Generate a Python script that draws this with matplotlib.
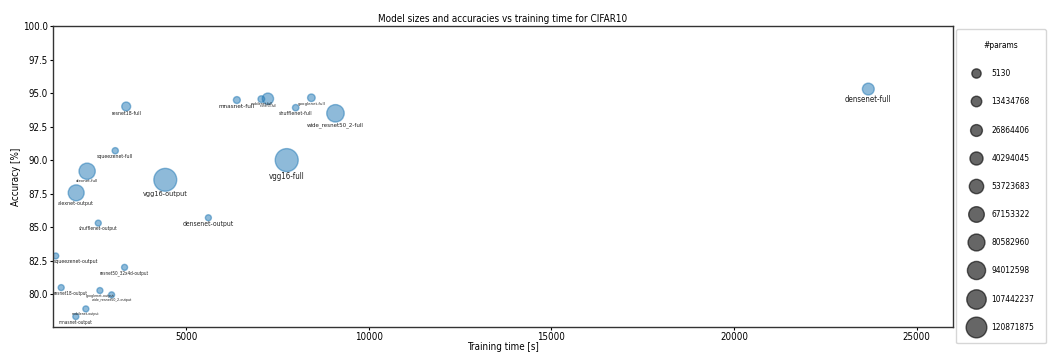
import numpy as np
import matplotlib.pyplot as plt
from matplotlib.lines import Line2D

plt.rcParams["font.stretch"] = "condensed"

# CIFAR10 runs: "full" = whole network trained, "output" = only the last layer
models = ["resnet18-full", "squeezenet-full", "alexnet-full", "shufflenet-full",
          "mnasnet-full", "mobilenet-full", "resnet50-full", "googlenet-full",
          "wide_resnet50_2-full", "vgg16-full", "densenet-full",
          "squeezenet-output", "resnet50_32x4d-output", "resnet18-output",
          "googlenet-output", "wide_resnet50_2-output", "mobilenet-output",
          "mnasnet-output", "shufflenet-output", "densenet-output",
          "alexnet-output", "vgg16-output"]
train_time = [3360, 3060, 2290, 8000, 6390, 7060, 7240, 8430, 9090, 7755, 23680,
              1430, 3315, 1580, 2640, 2960, 2255, 1980, 2595, 5610, 1990, 4430]
accuracy = [94.0, 90.7, 89.17, 93.91, 94.48, 94.55, 94.58, 94.65, 93.49, 90.0, 95.3,
            82.85, 82.0, 80.49, 80.27, 79.95, 78.9, 78.33, 85.3, 85.7, 87.56, 88.53]
n_params = [11181642, 740554, 57044810, 1263854, 3115730, 2236682, 23528522,
            5610154, 66854730, 120871875, 26495946,
            5130, 20490, 5130, 10250, 20490, 12810, 12810, 10250, 22090,
            54575114, 119586826]
label_size = [3.8, 3.8, 3.2, 3.9, 4.6, 2.6, 2.15, 3.2, 4.4, 5.7, 5.7,
              3.8, 3.35, 3.35, 2.7, 2.7, 2.6, 3.3, 3.5, 4.9, 3.9, 5.2]

legend_params = [5130, 13434768, 26864406, 40294045, 53723683,
                 67153322, 80582960, 94012598, 107442237, 120871875]

px = 72 / 100  # points per pixel at dpi 100
p_max = max(n_params)
diam = np.sqrt(49 + 527 * np.array(n_params) / p_max) - 1.0  # pixels
sizes = (diam * px) ** 2

fig = plt.figure(figsize=(10.56, 3.52), dpi=100)
ax = fig.add_axes([0.05, 0.071, 0.8525, 0.855])

ax.scatter(train_time, accuracy, s=sizes, color="C0", alpha=0.5, linewidths=1.0)
labels = []
for name, t, a, d, fs in zip(models, train_time, accuracy, diam, label_size):
    labels.append(ax.annotate(name, (t, a), xytext=(0, -d * px / 2),
                              textcoords="offset points", ha="center", va="top",
                              fontsize=fs, color="#222222"))

ax.set_xlim(1350, 26000)
ax.set_ylim(77.55, 100)
ax.set_title("Model sizes and accuracies vs training time for CIFAR10", fontsize=7.1, pad=3)
ax.set_xlabel("Training time [s]", fontsize=7, labelpad=0)
ax.set_ylabel("Accuracy [%]", fontsize=7, labelpad=1)
ax.tick_params(labelsize=7, length=2.5, pad=1.2)
for sp in ax.spines.values():
    sp.set_linewidth(1.0)
    sp.set_color("#333333")

# keep labels of points near the left spine inside the axes
fig.canvas.draw()
renderer = fig.canvas.get_renderer()
ax_left = ax.get_window_extent(renderer).x0
for txt in labels:
    bb = txt.get_window_extent(renderer)
    if bb.x0 < ax_left + 1:
        txt.set_horizontalalignment("left")
        x_data = ax.transData.inverted().transform((ax_left + 1, 0))[0]
        txt.xy = (x_data, txt.xy[1])

handles = []
for v in legend_params:
    d = 9.3 + 11.4 * (v - legend_params[0]) / (legend_params[-1] - legend_params[0])
    handles.append(Line2D([], [], marker="o", linestyle="", color="k", alpha=0.6,
                          markersize=d * px, markeredgewidth=1.0))
ax.legend(handles, [str(v) for v in legend_params], title="#params",
          loc="upper left", bbox_to_anchor=(1.0, 1.0), borderaxespad=0.4,
          fontsize=6, title_fontsize=6, borderpad=1.4, labelspacing=2.3)

fig.savefig("out.png", dpi=100)
